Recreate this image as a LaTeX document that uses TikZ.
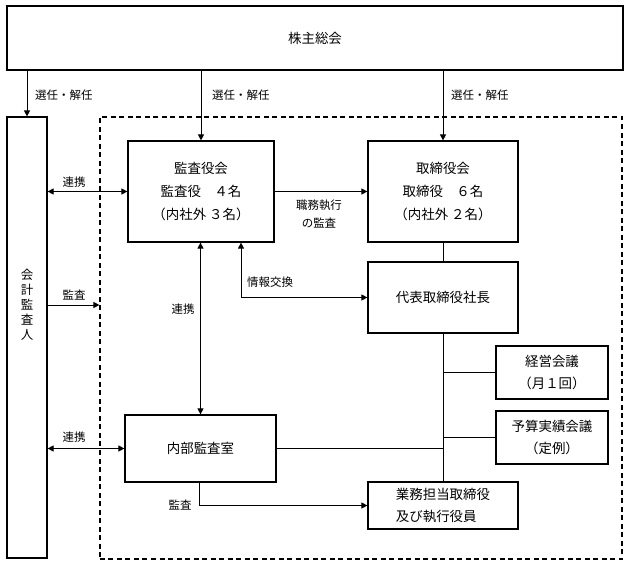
\documentclass[tikz,border=0pt]{standalone}
\usepackage{fontspec}
\setmainfont{Noto Sans CJK JP}
\usetikzlibrary{arrows.meta,positioning}

\begin{document}
\begin{tikzpicture}[x=1bp,y=-1bp,
  box/.style={draw,line width=1.2bp,inner sep=0pt,align=center,
    font=\fontsize{13.5}{23}\selectfont},
  lbl/.style={inner sep=0pt,align=center,font=\fontsize{11.5}{18}\selectfont},
  conn/.style={line width=1bp},
  arr/.style={conn,-{Triangle[length=6bp,width=6bp]}},
  darr/.style={conn,{Triangle[length=6bp,width=6bp]}-{Triangle[length=6bp,width=6bp]}}]

  \useasboundingbox (0,0) rectangle (629,565);

  %% boxes
  \node[box,minimum width=616bp,minimum height=64bp] (soukai) at (315,38) {株主総会};
  \node[box,minimum width=40bp,minimum height=441bp] (kaikei) at (27,337.5) {};
  \node[inner sep=0pt,align=center,font=\fontsize{12.5}{15}\selectfont]
    (kaikeitxt) at (27,305) {会\\計\\監\\査\\人};
  \node[draw,line width=1.2bp,dash pattern=on 5bp off 3.5bp,inner sep=0pt,
    minimum width=522bp,minimum height=442bp] (kikan) at (361,338) {};

  \node[box,minimum width=146bp,minimum height=101bp] (kansa) at (201,191.5)
    {監査役会\\監査役　４名\\（内社外 ３名）};
  \node[box,minimum width=150bp,minimum height=101bp] (torishimari) at (443,191.5)
    {取締役会\\取締役　６名\\（内社外 ２名）};
  \node[box,minimum width=150bp,minimum height=71bp] (daihyo) at (443,297.5)
    {代表取締役社長};
  \node[box,minimum width=112bp,minimum height=53bp] (keiei) at (552,372.5)
    {経営会議\\（月１回）};
  \node[box,minimum width=112bp,minimum height=53bp] (yosan) at (552,437.5)
    {予算実績会議\\（定例）};
  \node[box,minimum width=151bp,minimum height=67bp] (naibu) at (200.5,448.5)
    {内部監査室};
  \node[box,align=left,minimum width=150bp,minimum height=47bp] (gyomu) at (443,505.5)
    {業務担当取締役\\及び執行役員};

  %% shareholders
  \draw[arr] (soukai.south -| kaikei.north) -- (kaikei.north);
  \draw[arr] (soukai.south -| kansa.north) -- (kansa.north);
  \draw[arr] (soukai.south -| torishimari.north) -- (torishimari.north);
  \node[lbl,anchor=west] (sennin1) at (35,95) {選任・解任};
  \node[lbl,anchor=west] (sennin2) at (212,95) {選任・解任};
  \node[lbl,anchor=west] (sennin3) at (451,95) {選任・解任};

  %% auditor
  \draw[darr] (kaikei.east |- kansa) -- (kansa.west);
  \node[lbl] (renkei1) at (74,182) {連携};
  \draw[arr] (kaikei.east |- kaikeitxt) -- (kikan.west |- kaikeitxt);
  \node[lbl] (kansa1) at (74,295) {監査};
  \draw[darr] (kaikei.east |- naibu) -- (naibu.west);
  \node[lbl] (renkei2) at (74,437) {連携};

  %% audit board
  \draw[arr] (kansa.east) -- (torishimari.west);
  \node[lbl] (shokumu) at (319,214) {職務執行\\の監査};
  \draw[darr] (daihyo.west) -| ([xshift=40bp]kansa.south);
  \node[lbl,anchor=west] (jouhou) at (247,282) {情報交換};
  \draw[darr] (kansa.south -| naibu.north) -- (naibu.north);
  \node[lbl] (renkei3) at (183,309) {連携};

  %% executive line
  \draw[conn] (torishimari) -- (daihyo);
  \draw[conn] (daihyo) -- (gyomu);
  \draw[conn] (keiei.west) -- (keiei.west -| daihyo.south);
  \draw[conn] (yosan.west) -- (yosan.west -| daihyo.south);
  \draw[conn] (naibu.east) -- (naibu.east -| daihyo.south);
  \draw[arr] ([xshift=-1.5bp]naibu.south) |- (gyomu.west);
  \node[lbl] (kansa2) at (180,505) {監査};

\end{tikzpicture}
\end{document}
